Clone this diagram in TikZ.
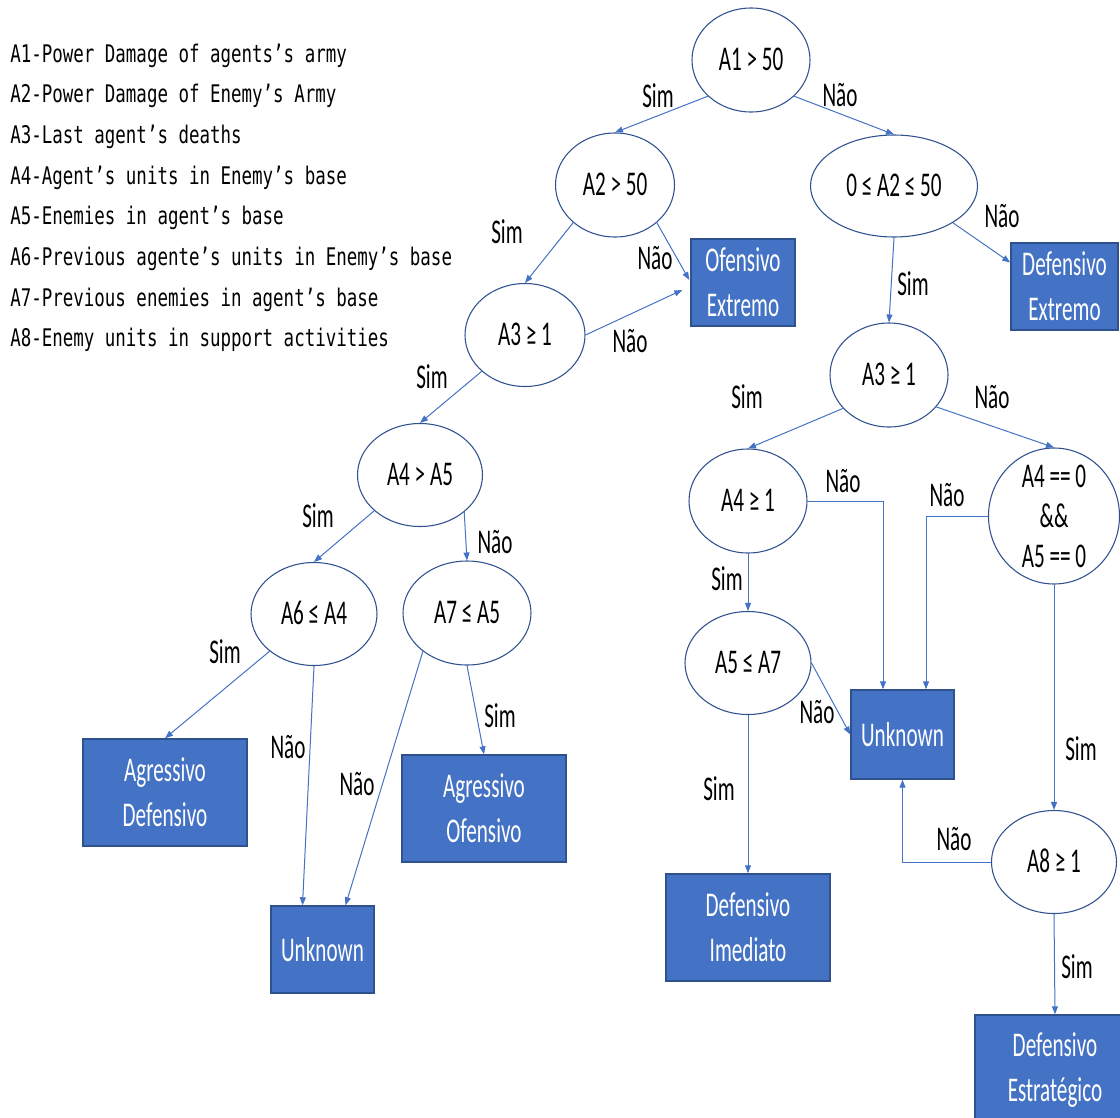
\documentclass[tikz,border=0pt]{standalone}
\usepackage{fontspec}
\usetikzlibrary{shapes.geometric, arrows.meta, calc}
\newfontfamily\cali[FakeStretch=0.61]{Carlito}
\newfontfamily\legfont[FakeStretch=0.72]{DejaVu Sans Mono}
\definecolor{offblue}{RGB}{68,114,196}
\definecolor{offdark}{RGB}{47,82,143}

\begin{document}
\begin{tikzpicture}[x=0.75pt, y=-0.75pt,
  every node/.style={inner sep=0pt},
  cond/.style={ellipse, draw=offdark, line width=0.8pt, fill=white,
    font=\cali\fontsize{26}{30}\selectfont, text height=16.4pt, text depth=0pt},
  leaf/.style={rectangle, draw=offdark, line width=1.1pt, fill=offblue, text=white,
    align=center, font=\cali\fontsize{26}{33.5}\selectfont},
  lbl/.style={font=\cali\fontsize{26}{30}\selectfont, text height=16.4pt, text depth=0pt},
  legend/.style={anchor=base west, font=\legfont\fontsize{18.2}{22}\selectfont},
  link/.style={draw=offblue, line width=0.75pt, -{Triangle[length=6pt,width=4.5pt]}}
]
\useasboundingbox (0,0) rectangle (1120,1117);
\clip (0,0) rectangle (1120,1117);

% attribute legend
\node[legend] (k1) at (10,62)    {A1-Power Damage of agents’s army};
\node[legend] (k2) at (10,102.7) {A2-Power Damage of Enemy’s Army};
\node[legend] (k3) at (10,143.4) {A3-Last agent’s deaths};
\node[legend] (k4) at (10,184.1) {A4-Agent’s units in Enemy’s base};
\node[legend] (k5) at (10,224.8) {A5-Enemies in agent’s base};
\node[legend] (k6) at (10,265.5) {A6-Previous agente’s units in Enemy’s base};
\node[legend] (k7) at (10,306.2) {A7-Previous enemies in agent’s base};
\node[legend] (k8) at (10,346.9) {A8-Enemy units in support activities};

% decision nodes
\node[cond, minimum width=88.5pt,  minimum height=78pt]    (a1)  at (751,60)  {A1 > 50};
\node[cond, minimum width=89.25pt, minimum height=78pt]    (a2)  at (615,185) {A2 > 50};
\node[cond, minimum width=125.25pt,minimum height=76.5pt]  (b2)  at (894,186) {0 ≤ A2 ≤ 50};
\node[cond, minimum width=90pt,    minimum height=77.25pt] (a3l) at (525,335) {A3 ≥ 1};
\node[cond, minimum width=88.5pt,  minimum height=78pt]    (a3r) at (889,375) {A3 ≥ 1};
\node[cond, minimum width=93.75pt, minimum height=77.25pt] (a4l) at (420,475) {A4 > A5};
\node[cond, minimum width=94.5pt,  minimum height=77.25pt] (a6)  at (314,614) {A6 ≤ A4};
\node[cond, minimum width=96pt,    minimum height=78pt]    (a7)  at (467,613) {A7 ≤ A5};
\node[cond, minimum width=88.5pt,  minimum height=78pt]    (a4r) at (748,501) {A4 ≥ 1};
\node[cond, minimum width=98.25pt, minimum height=102pt]   (c4)  at (1054,516) {};
\node[align=center, font=\cali\fontsize{26}{30}\selectfont] (c4t) at (c4.center)
  {A4 == 0\\\&\&\\A5 == 0};
\node[cond, minimum width=94.5pt,  minimum height=77.25pt] (a5)  at (748,663) {A5 ≤ A7};
\node[cond, minimum width=93.75pt, minimum height=77.25pt] (a8)  at (1054,862) {A8 ≥ 1};

% outcome boxes
\node[leaf, minimum width=78pt,    minimum height=65.25pt] (ofe) at (743,282.5)  {Ofensivo\\Extremo};
\node[leaf, minimum width=80.25pt, minimum height=65.25pt] (dex) at (1064.5,286.5) {Defensivo\\Extremo};
\node[leaf, minimum width=123pt,   minimum height=80.25pt] (agd) at (165,792.5)  {Agressivo\\Defensivo};
\node[leaf, minimum width=123pt,   minimum height=80.25pt] (ago) at (484,808.5)  {Agressivo\\Ofensivo};
\node[leaf, minimum width=77.25pt, minimum height=65.25pt] (unl) at (322.5,949.5) {Unknown};
\node[leaf, minimum width=77.25pt, minimum height=66.75pt] (unr) at (902.5,734.5) {Unknown};
\node[leaf, minimum width=123pt,   minimum height=80.25pt] (dim) at (748,927.5)  {Defensivo\\Imediato};
\node[leaf, minimum width=120pt,   minimum height=82.5pt]  (des) at (1055,1070)  {Defensivo\\Estratégico};

% connectors
\draw[link] (a1.220) -- (a2.north);
\draw[link] (a1.320) -- (b2.north);
\draw[link] (a2.222) -- (a3l.north);
\draw[link] (a2.318) -- ($(ofe.west)+(-1,-2.5)$);
\draw[link] (a3l.east) -- ($(ofe.west)+(-8,7.5)$);
\draw[link] (a3l.220) -- (a4l.north);
\draw[link] (a4l.218) -- (a6.north);
\draw[link] (a4l.320) -- (a7.north);
\draw[link] (a6.220) -- (agd.north);
\draw[link] (a6.south) -- ($(unl.north)+(-20,0)$);
\draw[link] (a7.221) -- ($(unl.north)+(23,0)$);
\draw[link] (a7.south) -- (ago.north);
\draw[link] (b2.328) -- ($(dex.west)+(0,-24)$);
\draw[link] (b2.south) -- (a3r.north);
\draw[link] (a3r.216) -- (a4r.north);
\draw[link] (a3r.326) -- (c4.north);
\draw[link] (a4r.south) -- (a5.north);
\draw[link] (a4r.east) -| ($(unr.north)+(-19.5,0)$);
\draw[link] (c4.west) -| ($(unr.north)+(23.5,0)$);
\draw[link] (a5.east) -- (unr.west);
\draw[link] (a5.south) -- (dim.north);
\draw[link] (c4.south) -- (a8.north);
\draw[link] (a8.west) -| (unr.south);
\draw[link] (a8.south) -- (des.north);

% branch labels
\node[lbl] (s1)  at (658,97)   {Sim};
\node[lbl] (n1)  at (840,96)   {Não};
\node[lbl] (s2)  at (507,233)  {Sim};
\node[lbl] (n2)  at (655,259)  {Não};
\node[lbl] (n3)  at (630,342)  {Não};
\node[lbl] (s3)  at (432,378)  {Sim};
\node[lbl] (s4)  at (318,517)  {Sim};
\node[lbl] (n4)  at (495,543)  {Não};
\node[lbl] (s6)  at (225,653)  {Sim};
\node[lbl] (n6)  at (288,748)  {Não};
\node[lbl] (n7)  at (357,785)  {Não};
\node[lbl] (s7)  at (500,717)  {Sim};
\node[lbl] (nb)  at (1002,217) {Não};
\node[lbl] (sb)  at (913,285)  {Sim};
\node[lbl] (sr)  at (747,398)  {Sim};
\node[lbl] (nr)  at (992,398)  {Não};
\node[lbl] (nq)  at (843,482)  {Não};
\node[lbl] (nc)  at (947,496)  {Não};
\node[lbl] (sq)  at (727,580)  {Sim};
\node[lbl] (n5)  at (817,713)  {Não};
\node[lbl] (s5)  at (719,790)  {Sim};
\node[lbl] (sc)  at (1081,750) {Sim};
\node[lbl] (n8)  at (954,840)  {Não};
\node[lbl] (s8)  at (1077,968) {Sim};
\end{tikzpicture}
\end{document}
